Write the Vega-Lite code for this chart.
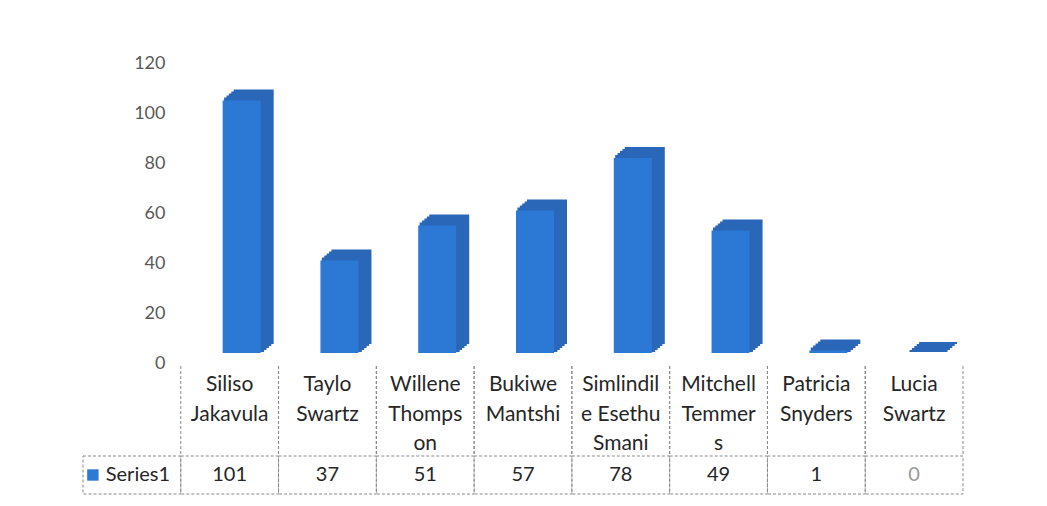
{
  "$schema": "https://vega.github.io/schema/vega-lite/v6.json",
  "background": "white",
  "padding": {"left": 82, "top": 54, "right": 80, "bottom": 8},
  "bounds": "flush",
  "spacing": 3,
  "config": {"view": {"stroke": null}, "font": "Lato"},
  "datasets": {
    "scores": [
      {"name": "Siliso Jakavula", "label": "Siliso\nJakavula", "value": 101},
      {"name": "Taylo Swartz", "label": "Taylo\nSwartz", "value": 37},
      {"name": "Willene Thompson", "label": "Willene\nThomps\non", "value": 51},
      {"name": "Bukiwe Mantshi", "label": "Bukiwe\nMantshi", "value": 57},
      {"name": "Simlindile Esethu Smani", "label": "Simlindil\ne Esethu\nSmani", "value": 78},
      {"name": "Mitchell Temmers", "label": "Mitchell\nTemmer\ns", "value": 49},
      {"name": "Patricia Snyders", "label": "Patricia\nSnyders", "value": 1},
      {"name": "Lucia Swartz", "label": "Lucia\nSwartz", "value": 0}
    ],
    "header": [{"name": "Series1", "label": "Series1"}]
  },
  "vconcat": [
    {
      "width": 880,
      "height": 300,
      "data": {"name": "scores"},
      "encoding": {
        "x": {"field": "name", "type": "nominal", "sort": null,
          "scale": {"domain": ["Series1","Siliso Jakavula","Taylo Swartz","Willene Thompson","Bukiwe Mantshi","Simlindile Esethu Smani","Mitchell Temmers","Patricia Snyders","Lucia Swartz"], "paddingInner": 0, "paddingOuter": 0},
          "axis": null},
        "y": {"field": "value", "type": "quantitative", "stack": null,
          "scale": {"domain": [0, 120], "nice": false},
          "axis": {"orient": "left", "offset": -98, "domain": false, "ticks": false, "grid": false,
            "values": [0, 20, 40, 60, 80, 100, 120], "labelPadding": 16, "labelFont": "Lato",
            "labelFontSize": 18, "labelColor": "#595959", "title": null}},
        "y2": {"datum": 0}
      },
      "layer": [
        {"mark": {"type": "bar", "width": 38, "xOffset": 14.4, "yOffset": -12, "y2Offset": -12, "color": "#1f5aa6"}},
        {"mark": {"type": "bar", "width": 38, "xOffset": 16.8, "yOffset": -14, "y2Offset": -14, "color": "#1f5aa6"}},
        {"mark": {"type": "bar", "width": 38, "xOffset": 19.2, "yOffset": -16, "y2Offset": -16, "color": "#1f5aa6"}},
        {"mark": {"type": "bar", "width": 38, "xOffset": 21.6, "yOffset": -18, "y2Offset": -18, "color": "#1f5aa6"}},
        {"mark": {"type": "bar", "width": 38, "xOffset": 24, "yOffset": -20, "y2Offset": -20, "color": "#1f5aa6"}},
        {"mark": {"type": "bar", "width": 38, "xOffset": 14.4, "yOffset": -12, "y2Offset": -12, "color": "#2a67b8", "stroke": "#2a67b8", "strokeWidth": 2}, "encoding": {"y2": {"field": "value"}}},
        {"mark": {"type": "bar", "width": 38, "xOffset": 16.8, "yOffset": -14, "y2Offset": -14, "color": "#2a67b8", "stroke": "#2a67b8", "strokeWidth": 2}, "encoding": {"y2": {"field": "value"}}},
        {"mark": {"type": "bar", "width": 38, "xOffset": 19.2, "yOffset": -16, "y2Offset": -16, "color": "#2a67b8", "stroke": "#2a67b8", "strokeWidth": 2}, "encoding": {"y2": {"field": "value"}}},
        {"mark": {"type": "bar", "width": 38, "xOffset": 21.6, "yOffset": -18, "y2Offset": -18, "color": "#2a67b8", "stroke": "#2a67b8", "strokeWidth": 2}, "encoding": {"y2": {"field": "value"}}},
        {"mark": {"type": "bar", "width": 38, "xOffset": 24, "yOffset": -20, "y2Offset": -20, "color": "#2a67b8", "stroke": "#2a67b8", "strokeWidth": 2}, "encoding": {"y2": {"field": "value"}}},
        {"mark": {"type": "bar", "width": 38, "xOffset": 12, "yOffset": -10, "y2Offset": -10, "color": "#2b79d5"}}
      ]
    },
    {
      "spacing": 0,
      "bounds": "flush",
      "vconcat": [
        {
          "width": 880,
          "height": 90,
          "data": {"name": "scores"},
          "encoding": {
            "x": {"field": "name", "type": "nominal", "sort": null,
              "scale": {"domain": ["Series1","Siliso Jakavula","Taylo Swartz","Willene Thompson","Bukiwe Mantshi","Simlindile Esethu Smani","Mitchell Temmers","Patricia Snyders","Lucia Swartz"], "paddingInner": 0, "paddingOuter": 0},
              "axis": null}
          },
          "layer": [
            {"mark": {"type": "rule", "color": "#8a8a8a", "strokeDash": [3, 2], "strokeWidth": 1}, "encoding": {"x": {"field": "name", "type": "nominal", "bandPosition": 0}}},
            {"mark": {"type": "rule", "color": "#8a8a8a", "strokeDash": [3, 2], "strokeWidth": 1}, "encoding": {"x": {"field": "name", "type": "nominal", "bandPosition": 1}}},
            {"mark": {"type": "text", "baseline": "top", "align": "center", "lineBreak": "\n", "lineHeight": 29.5, "font": "Lato", "fontSize": 21, "color": "#262626", "yOffset": -37},
              "encoding": {"text": {"field": "label"}}}
          ]
        },
        {
          "width": 880,
          "height": 38,
          "encoding": {
            "x": {"field": "name", "type": "nominal", "sort": null,
              "scale": {"domain": ["Series1","Siliso Jakavula","Taylo Swartz","Willene Thompson","Bukiwe Mantshi","Simlindile Esethu Smani","Mitchell Temmers","Patricia Snyders","Lucia Swartz"], "paddingInner": 0, "paddingOuter": 0},
              "axis": null}
          },
          "layer": [
            {"data": {"name": "scores"}, "mark": {"type": "rect", "fillOpacity": 0, "stroke": "#8a8a8a", "strokeDash": [3, 2], "strokeWidth": 1}},
            {"data": {"name": "header"}, "mark": {"type": "rect", "fillOpacity": 0, "stroke": "#8a8a8a", "strokeDash": [3, 2], "strokeWidth": 1}},
            {"data": {"name": "scores"}, "mark": {"type": "text", "baseline": "middle", "align": "center", "font": "Lato", "fontSize": 20},
              "encoding": {"text": {"field": "value", "type": "quantitative"},
                "color": {"condition": {"test": "datum.value === 0", "value": "#9a9a9a"}, "value": "#262626"}}},
            {"data": {"name": "header"}, "mark": {"type": "point", "shape": "square", "filled": true, "opacity": 1, "size": 130, "color": "#2e79d6", "xOffset": -39}},
            {"data": {"name": "header"}, "mark": {"type": "text", "baseline": "middle", "align": "center", "font": "Lato", "fontSize": 20, "color": "#262626", "xOffset": 6},
              "encoding": {"text": {"field": "label"}}}
          ]
        }
      ]
    }
  ]
}
